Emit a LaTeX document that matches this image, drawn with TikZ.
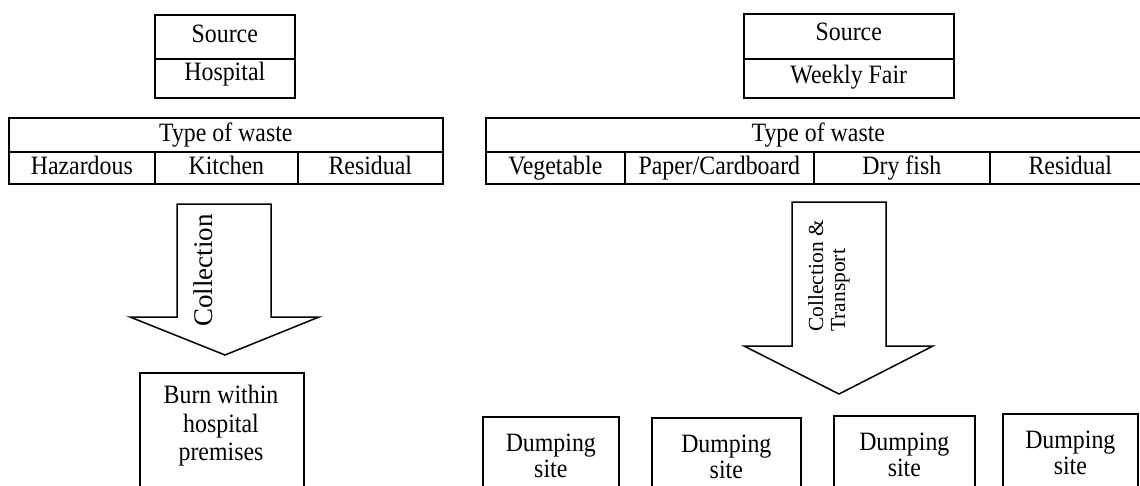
\documentclass[tikz,border=0pt]{standalone}
\usepackage{fontspec}
\setmainfont[FakeStretch=0.9]{Liberation Serif}
\newfontfamily\rotfont{Liberation Serif}
\begin{document}
\begin{tikzpicture}[x=1pt,y=-1pt,
  cell/.style={draw, line width=1.6pt, inner sep=0pt, anchor=north west,
    text height=16pt, text depth=4pt, font=\fontsize{26.5}{30}\selectfont},
  tcell/.style={cell, text height=17pt, text depth=3pt},
  plainbox/.style={draw, line width=1.6pt, inner sep=0pt, anchor=north west},
  dbox/.style={draw, line width=1.6pt, inner sep=0pt, anchor=north west,
    align=center, minimum height=78pt, font=\fontsize{26.5}{25.5}\selectfont},
  txt/.style={inner sep=0pt, font=\fontsize{26.5}{28.5}\selectfont},
  rottxt/.style={inner sep=0pt, rotate=90, anchor=base west},
  blockarrow/.style={draw, line width=1.5pt, fill=white, line join=miter}]
\useasboundingbox (0,0) rectangle (1140,485);
\clip (0,0) rectangle (1140,485);

% ---------- Left: Hospital ----------
\node[cell, minimum width=140pt, minimum height=44pt] (srcL) at (154,14) {Source};
\node[cell, minimum width=140pt, minimum height=39pt, text height=16pt, text depth=11pt] (hosp) at (154,58) {Hospital};

\node[tcell, minimum width=434pt, minimum height=34pt] (typeL) at (8,117) {Type of waste};
\node[tcell, minimum width=146pt, minimum height=32pt] (haz) at (8,151) {Hazardous};
\node[tcell, minimum width=143pt, minimum height=32pt] (kit) at (154,151) {Kitchen};
\node[tcell, minimum width=145pt, minimum height=32pt] (resL) at (297,151) {Residual};

\coordinate (la1) at (177,204);
\coordinate (la2) at (271,204);
\coordinate (la3) at (271,317);
\coordinate (la4) at (319,317);
\coordinate (latip) at (225,355);
\coordinate (la6) at (130,317);
\coordinate (la7) at (177,317);
\draw[blockarrow] (la1) -- (la2) -- (la3) -- (la4) -- (latip) -- (la6) -- (la7) -- cycle;
\node[rottxt, font=\rotfont\fontsize{27}{30}\selectfont] (coll) at (212,327) {Collection};

\node[plainbox, minimum width=164pt, minimum height=140pt] (burn) at (139,372) {};
\node[txt, align=center] (burntxt) at (221,426) {Burn within\\hospital\\premises};

% ---------- Right: Weekly Fair ----------
\node[cell, minimum width=210pt, minimum height=45pt, text height=16pt, text depth=7pt] (srcR) at (743,13) {Source};
\node[cell, minimum width=210pt, minimum height=39pt, text height=16pt, text depth=5pt] (fair) at (743,58) {Weekly Fair};

\node[tcell, minimum width=665pt, minimum height=34pt] (typeR) at (485,117) {Type of waste};
\node[tcell, minimum width=139pt, minimum height=32pt] (veg) at (485,151) {Vegetable};
\node[tcell, minimum width=189pt, minimum height=32pt] (pap) at (624,151) {Paper/Cardboard};
\node[tcell, minimum width=176pt, minimum height=32pt] (fish) at (813,151) {Dry fish};
\node[tcell, minimum width=161pt, minimum height=32pt] (resR) at (989,151) {Residual};

\coordinate (ra1) at (792,202);
\coordinate (ra2) at (886,202);
\coordinate (ra3) at (886,346);
\coordinate (ra4) at (933,346);
\coordinate (ratip) at (839,394);
\coordinate (ra6) at (744,346);
\coordinate (ra7) at (792,346);
\draw[blockarrow] (ra1) -- (ra2) -- (ra3) -- (ra4) -- (ratip) -- (ra6) -- (ra7) -- cycle;
\node[rottxt, font=\rotfont\fontsize{21.5}{24}\selectfont] (ct1) at (823,332) {Collection \&};
\node[rottxt, font=\rotfont\fontsize{21.5}{24}\selectfont] (ct2) at (845,332) {Transport};

\node[dbox, minimum width=136pt] (d1) at (482,416) {Dumping\\site};
\node[dbox, minimum width=149pt] (d2) at (651,417) {Dumping\\site};
\node[dbox, minimum width=141pt] (d3) at (833,415) {Dumping\\site};
\node[dbox, minimum width=135pt] (d4) at (1002,413) {Dumping\\site};
\end{tikzpicture}
\end{document}
